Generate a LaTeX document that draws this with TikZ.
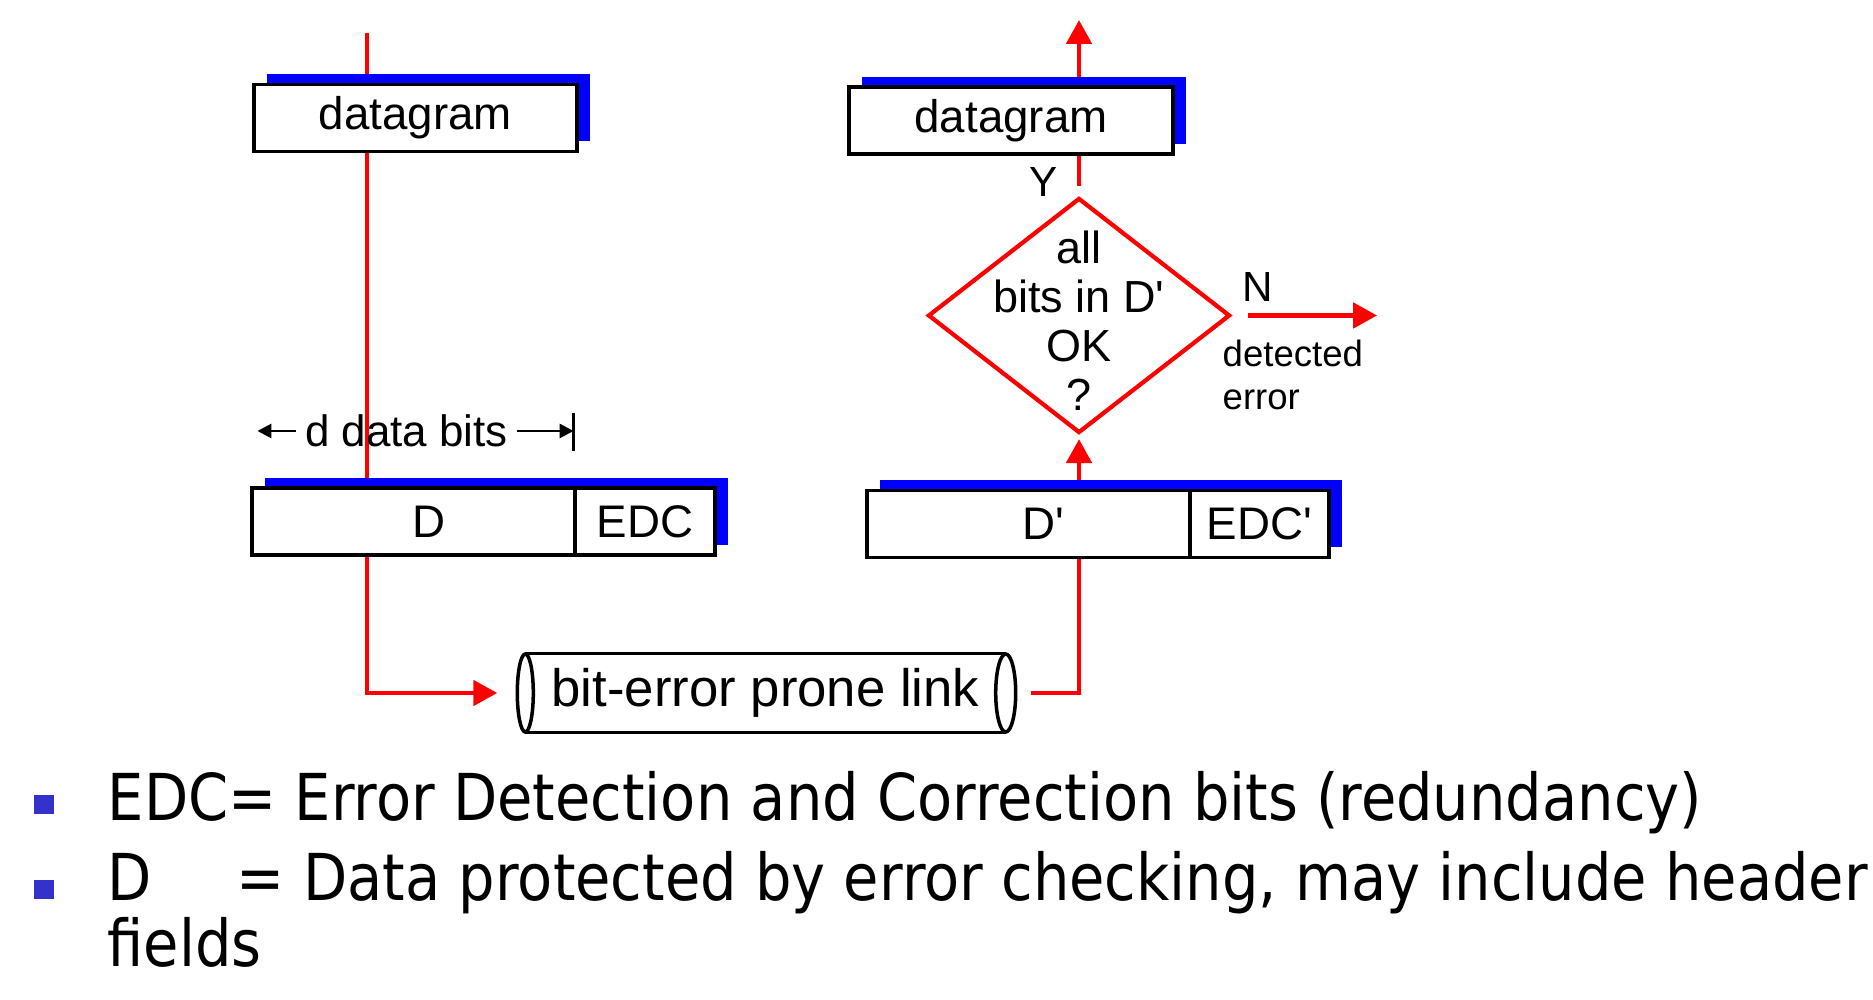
\documentclass[tikz,border=0pt]{standalone}
\usepackage{fontspec}
\newfontfamily\diagfont{Liberation Sans}
\newfontfamily\notefont[FakeStretch=0.889]{DejaVu Sans}
\usetikzlibrary{shapes.geometric, arrows.meta, positioning, shadows, backgrounds}
\definecolor{bulletblue}{RGB}{51,51,204}

\begin{document}
\begin{tikzpicture}[
    font=\diagfont,
    frame/.style={
        rectangle, draw=black, line width=1.1pt, fill=white,
        minimum height=0.67cm, inner sep=0pt, outer sep=0pt,
        font=\diagfont\fontsize{13}{15}\selectfont,
        general shadow={fill=blue, shadow xshift=0.13cm, shadow yshift=0.1cm}
    },
    decision/.style={
        diamond, draw=red, line width=1.2pt,
        minimum width=3.02cm, minimum height=2.35cm, inner sep=0pt
    },
    decisiontext/.style={align=center, font=\diagfont\fontsize{12.8}{13.9}\selectfont},
    flow/.style={red, line width=1.4pt, -{Triangle[length=2.4mm, width=2.5mm]}},
    tag/.style={font=\diagfont\fontsize{12}{14}\selectfont},
    note/.style={font=\diagfont\fontsize{10.4}{12}\selectfont, align=left, inner sep=0pt},
    dim/.style={line width=0.8pt, -{Triangle[length=1.4mm, width=1.4mm]}},
    bulletsq/.style={
        rectangle, fill=bulletblue, inner sep=0pt,
        minimum width=0.2cm, minimum height=0.19cm
    },
    bullettext/.style={
        font=\notefont\fontsize{18.4}{15.4}\selectfont,
        align=left, inner sep=0pt, anchor=north west
    },
]
\useasboundingbox (0,0) rectangle (18.73,-10);

% Sender
\node[frame, minimum width=3.23cm] (dgsend) at (4.155,-1.18) {datagram};
\node[frame, minimum width=3.23cm] (dsend) at (4.135,-5.215) {\hspace*{0.3cm}D};
\node[frame, minimum width=1.40cm, right=0pt of dsend] (edcsend) {EDC};
\node[font=\diagfont\fontsize{12.5}{14}\selectfont, inner xsep=0.8mm, inner ysep=0pt]
    (dbits) at (4.065,-4.31) {d data bits};

% Receiver
\node[frame, minimum width=3.24cm] (dgrecv) at (10.11,-1.205) {datagram};
\node[frame, minimum width=3.23cm] (drecv) at (10.285,-5.24) {\hspace*{0.3cm}D'};
\node[frame, minimum width=1.39cm, right=0pt of drecv] (edcrecv) {EDC'};
\node[decision, label={[decisiontext, yshift=-0.05cm]center:{all\\bits in D'\\OK\\?}}]
    (check) at (10.79,-3.155) {};
\node[tag] (yes) at (10.44,-1.82) {Y};
\node[tag] (no) at (12.58,-2.87) {N};
\node[note, anchor=west] (deterr) at (12.22,-3.75) {detected\\error};

% Link
\node[font=\diagfont\fontsize{15}{18}\selectfont, minimum width=4.79cm,
    minimum height=0.78cm, inner sep=0pt] (link) at (7.655,-6.93) {bit-error prone link};
\draw[line width=1pt] (link.north west) -- (link.north east)
    (link.south west) -- (link.south east);
\draw[line width=1pt] (link.west) ellipse [x radius=0.08, y radius=0.39]
    (link.east) ellipse [x radius=0.1, y radius=0.39];

% Ends
\coordinate (srctop) at (3.67,-0.33);
\coordinate (rcvtop) at (10.79,-0.2);
\coordinate[right=1.45cm of check.east] (errend);
\coordinate[left=0.39cm of dbits.west] (dimleft);
\coordinate[right=0.57cm of dbits.east] (dimright);

%% Flow
\begin{scope}[on background layer]
\draw[flow, shorten >=2.8mm] (srctop) |- (link.west);
\draw[flow, shorten <=2.5mm, shorten >=0.4mm] (link.east) -| (check.south);
\draw[flow, shorten <=1mm] (check.north) -- (rcvtop);
\end{scope}
\draw[flow, shorten <=1.6mm] (check.east) -- (errend);

%% d data bits
\draw[dim] (dbits.west) -- (dimleft);
\draw[dim] (dbits.east) -- (dimright);
\draw[line width=0.8pt] ([yshift=0.18cm]dimright) -- ([yshift=-0.2cm]dimright);

% Notes
\node[bulletsq] (bul1) at (0.435,-8.05) {};
\node[bullettext] (edcnote) at (1.07,-7.708)
    {EDC= Error Detection and Correction bits (redundancy)};
\node[bulletsq] (bul2) at (0.435,-8.9) {};
\node[bullettext] (dnote) at (1.07,-8.51)
    {D\hspace{0.85cm}= Data protected by error checking, may include header\\fields};

\end{tikzpicture}
\end{document}
